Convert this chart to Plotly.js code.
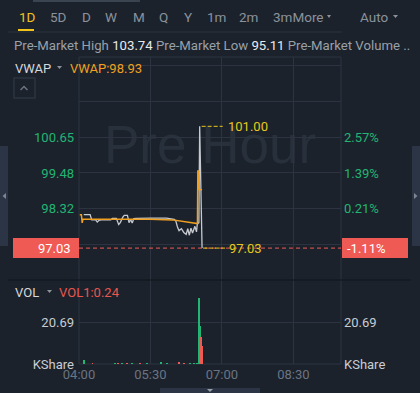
<!DOCTYPE html>
<html>
<head>
<meta charset="utf-8">
<script src="https://cdn.plot.ly/plotly-3.0.1.min.js"></script>
<style>
html,body{margin:0;padding:0;background:#1b222c;}
#chart{width:420px;height:393px;}
</style>
</head>
<body>
<div id="chart"></div>
<script>
// ---------- data ----------
const tabLabels = ['1D','5D','D','W','M','Q','Y','1m','2m','3mMore'];
const preMarketHigh = '103.74';
const preMarketLow = '95.11';
const vwapValue = '98.93';
const vol1Value = '0.24';

const priceTimes = ['04:06','04:14','04:16','04:21','04:23','04:25','04:28','04:40','04:42','04:47','04:50','04:52','04:55','04:57','05:01','05:03','05:05','05:07','05:09','05:12','05:30','05:50','06:00','06:02','06:04','06:06','06:09','06:12','06:15','06:17','06:19','06:21','06:23','06:26','06:28','06:29','06:31','06:32','06:35'];
const prices = [98.12,98.12,97.95,97.95,97.88,97.93,97.95,97.95,98.00,98.00,97.80,97.86,98.03,98.10,98.10,97.86,97.96,97.85,97.99,98.00,98.01,98.01,97.97,97.91,97.72,97.60,97.66,97.54,97.48,97.66,97.45,97.68,97.52,97.74,97.56,97.82,97.86,101.00,97.03];

const vwapTimes = ['04:01','04:03','04:04','04:05','05:30','05:58','06:29:10','06:29:40','06:30:50','06:31:30','06:35'];
const vwapValues = [98.12,98.12,97.85,97.98,97.97,97.95,97.83,99.54,99.54,98.94,98.93];

const volTimes = ['04:06','04:17','04:45','04:49','04:54','05:00','05:07','05:17','05:26','05:43','05:51','06:06','06:12','06:20','06:25','06:29','06:31','06:33','06:34','06:35'];
const volValues = [1.8,0.5,0.7,0.5,0.5,0.5,0.5,0.5,0.5,1.1,0.5,1.1,0.6,0.5,0.5,0.6,32.5,18.5,13.2,8.7];
const volUp = [1,-1,1,-1,1,-1,1,-1,1,1,1,-1,-1,1,1,1,1,1,-1,-1];

const xTickTimes = ['04:00','05:30','07:00','08:30'];
const xTickLabels = ['04:00','05:30','07:00','08:30'];
const xRange = ['04:00','09:30'];

const priceGridVals = [95.99,97.16,98.32,99.48,100.65,101.82,102.99];
const priceTickVals = [98.32,99.48,100.65];
const priceTickLabels = ['98.32','99.48','100.65'];
const pctTickLabels = ['0.21%','1.39%','2.57%'];
const priceRange = [95.99,103.26];
const lastPrice = 97.03;
const lastPriceLabel = '97.03';
const lastPctLabel = '-1.11%';

const volTickVals = [0,20.69];
const volTickLabels = ['KShare','20.69'];
const volRange = [0,41.38];

// ---------- styling / layout ----------
const BG = '#1b222c', GRID = '#2b3440', GREEN = '#22b573', RED = '#f05a55',
      ORANGE = '#f0a01e', YELLOW = '#e8c81a', GRAY = '#8b929c', FONT = 'Roboto, "Noto Sans", sans-serif';
const day = '2024-01-02 ';
const T = t => day + t;

// plot area in pixels
const L = 79, TOP = 57, W = 262, H = 307;
const px = x => (x - L) / W;
const py = y => (TOP + H - y) / H;
const split = (TOP + H - 280) / H;

const highIdx = prices.indexOf(Math.max(...prices));
const highTime = T(priceTimes[highIdx]);
const highPrice = prices[highIdx];
const lastTime = T(priceTimes[priceTimes.length - 1]);

const traces = [
  {x: priceTimes.map(T), y: prices, type: 'scatter', mode: 'lines', line: {color: '#c6c9ce', width: 1.3}, xaxis: 'x', yaxis: 'y', hoverinfo: 'skip'},
  {x: vwapTimes.map(T), y: vwapValues, type: 'scatter', mode: 'lines', line: {color: ORANGE, width: 1.5}, xaxis: 'x', yaxis: 'y', hoverinfo: 'skip'},
  {x: [lastTime], y: [lastPrice], type: 'scatter', mode: 'markers', marker: {opacity: 0}, xaxis: 'x', yaxis: 'y2', hoverinfo: 'skip'},
  {x: volTimes.map(T), y: volValues, type: 'bar', width: 144000, marker: {color: volUp.map(d => d > 0 ? GREEN : RED), line: {width: 0}}, xaxis: 'x', yaxis: 'y3', hoverinfo: 'skip'},
  {x: [lastTime], y: [0], type: 'scatter', mode: 'markers', marker: {opacity: 0}, xaxis: 'x', yaxis: 'y4', hoverinfo: 'skip'}
];

const ann = [];
const shapes = [];
function txt(text, x, y, size, color, anchor, extra) {
  ann.push(Object.assign({text: text, xref: 'paper', yref: 'paper', x: px(x), y: py(y), xanchor: anchor || 'left', yanchor: 'middle', showarrow: false, borderpad: 0, font: {family: FONT, size: size, color: color}}, extra || {}));
}
function rect(x0, y0, x1, y1, fill, line, layer) {
  shapes.push({type: 'rect', xref: 'paper', yref: 'paper', x0: px(x0), x1: px(x1), y0: py(y0), y1: py(y1), fillcolor: fill || 'rgba(0,0,0,0)', line: line || {width: 0}, layer: layer || 'above'});
}
function poly(pts, fill, line) {
  const d = pts.map((p, i) => (i ? 'L' : 'M') + px(p[0]) + ',' + py(p[1])).join(' ') + (fill ? ' Z' : '');
  shapes.push({type: 'path', xref: 'paper', yref: 'paper', path: d, fillcolor: fill || 'rgba(0,0,0,0)', line: line || {width: 0}, layer: 'above'});
}

// top scroll indicator
rect(33, 0, 140, 2, '#3a4350');
// tabs
const tabX = [18, 49, 81, 104, 132, 158, 183, 206, 238, 272];
tabLabels.forEach((t, i) => txt(t, tabX[i], 17, 13.5, i === 0 ? '#f2c318' : GRAY));
poly([[327, 15], [331, 15], [329, 18]], GRAY);
txt('Auto', 359, 17, 13.5, GRAY);
poly([[393, 15], [398, 15], [395.5, 18]], GRAY);
rect(18, 29, 34, 31, '#f2c318');
rect(8, 31.5, 342, 32.5, '#2a323d');
// info line
txt('Pre-Market High <span style="color:#e8eaed">' + preMarketHigh + '</span> Pre-Market Low <span style="color:#e8eaed">' + preMarketLow + '</span> Pre-Market Volume ..', 13, 46, 13.2, '#9aa0a8');
// VWAP header
txt('VWAP', 14, 68.5, 13, '#d5d8dc');
poly([[57, 66], [62, 66], [59.5, 69]], GRAY);
txt('VWAP:' + vwapValue, 69, 68.5, 13, ORANGE);
// collapse button
rect(14, 78, 35, 98, 'rgba(0,0,0,0)', {color: '#2c3440', width: 1.5});
poly([[20.5, 90], [24, 86.5], [27.5, 90]], null, {color: '#6b7380', width: 1.5});
// side tabs
rect(0, 146, 8, 246, '#2b3545');
poly([[6, 193], [6, 199], [2.5, 196]], '#7d8592');
rect(412, 146, 420, 246, '#2b3545');
poly([[414, 193], [414, 199], [417.5, 196]], '#7d8592');
// bottom tab
rect(160, 388, 260, 393, '#2b3545');
poly([[207, 389], [213, 389], [210, 392]], '#9aa0a8');
// plot border + pane separator
rect(79, 57, 341, 364, 'rgba(0,0,0,0)', {color: GRID, width: 1}, 'below');
rect(8, 279.5, 411, 280.5, '#0f141b');
// VOL header
txt('VOL', 14, 292, 13, '#d5d8dc');
poly([[47, 290], [52, 290], [49.5, 293]], GRAY);
txt('VOL1:' + vol1Value, 58, 292, 13, '#e8574e');

// watermark (below the data)
shapes.push({type: 'rect', xref: 'paper', yref: 'paper', x0: px(100), x1: px(320), y0: py(167), y1: py(112), line: {width: 0}, fillcolor: 'rgba(0,0,0,0)', layer: 'below',
  label: {text: 'Pre Hour', textposition: 'middle center', font: {family: '"Liberation Sans", Arial, sans-serif', size: 53, color: '#28303b'}}});

// last price dashed line
shapes.push({type: 'line', xref: 'paper', yref: 'y', x0: 0, x1: 1, y0: lastPrice, y1: lastPrice, line: {color: RED, width: 1, dash: '4px,3px'}, layer: 'above'});
// high / last yellow markers
shapes.push({type: 'line', xref: 'x', xsizemode: 'pixel', xanchor: highTime, x0: 2, x1: 23, yref: 'y', y0: highPrice, y1: highPrice, line: {color: YELLOW, width: 1, dash: '4px,2px'}});
shapes.push({type: 'line', xref: 'x', xsizemode: 'pixel', xanchor: lastTime, x0: 1, x1: 24, yref: 'y', y0: lastPrice, y1: lastPrice, line: {color: YELLOW, width: 1, dash: '4px,2px'}});
ann.push({text: highPrice.toFixed(2), xref: 'x', yref: 'y', x: highTime, y: highPrice, xanchor: 'left', yanchor: 'middle', xshift: 27, showarrow: false, borderpad: 0, font: {family: FONT, size: 13, color: YELLOW}});
ann.push({text: lastPriceLabel, xref: 'x', yref: 'y', x: lastTime, y: lastPrice, xanchor: 'left', yanchor: 'middle', xshift: 26, showarrow: false, borderpad: 0, font: {family: FONT, size: 13, color: YELLOW}});
// last price boxes
shapes.push({type: 'rect', xref: 'paper', xsizemode: 'pixel', xanchor: 0, x0: -66, x1: 0, yref: 'y', ysizemode: 'pixel', yanchor: lastPrice, y0: -10, y1: 10, fillcolor: RED, line: {width: 0}, layer: 'above'});
shapes.push({type: 'rect', xref: 'paper', xsizemode: 'pixel', xanchor: 1, x0: 1, x1: 67, yref: 'y', ysizemode: 'pixel', yanchor: lastPrice, y0: -10, y1: 10, fillcolor: RED, line: {width: 0}, layer: 'above'});
ann.push({text: lastPriceLabel, xref: 'paper', yref: 'y', x: 0, y: lastPrice, xanchor: 'right', yanchor: 'middle', xshift: -7, showarrow: false, borderpad: 0, font: {family: FONT, size: 13, color: '#ffffff'}});
ann.push({text: lastPctLabel, xref: 'paper', yref: 'y', x: 1, y: lastPrice, xanchor: 'left', yanchor: 'middle', xshift: 5, showarrow: false, borderpad: 0, font: {family: FONT, size: 13, color: '#ffffff'}});

const priceTickText = priceGridVals.map(v => { const i = priceTickVals.indexOf(v); return i >= 0 ? priceTickLabels[i] : ''; });
const pctTickText = priceGridVals.map(v => { const i = priceTickVals.indexOf(v); return i >= 0 ? pctTickLabels[i] : ''; });

const layout = {
  width: 420, height: 393,
  margin: {l: L, r: 420 - L - W, t: TOP, b: 393 - TOP - H, pad: 0},
  paper_bgcolor: BG, plot_bgcolor: 'rgba(0,0,0,0)',
  showlegend: false, hovermode: false, bargap: 0,
  font: {family: FONT, size: 13, color: GRAY},
  xaxis: {type: 'date', range: xRange.map(T), tickmode: 'array', tickvals: xTickTimes.map(T), ticktext: xTickLabels,
          showgrid: true, gridcolor: GRID, gridwidth: 1, zeroline: false, showline: false, ticks: '', anchor: 'y3',
          ticklabelstandoff: 1,
          tickfont: {family: FONT, size: 13, color: '#6b7482'}, fixedrange: true},
  yaxis: {domain: [split, 1], range: priceRange, tickmode: 'array', tickvals: priceGridVals, ticktext: priceTickText,
          showgrid: true, gridcolor: GRID, zeroline: false, showline: false, ticks: '', ticklabelstandoff: 4,
          tickfont: {family: FONT, size: 13, color: GREEN}, anchor: 'x', fixedrange: true},
  yaxis2: {overlaying: 'y', side: 'right', range: priceRange, tickmode: 'array', tickvals: priceGridVals, ticktext: pctTickText,
          showgrid: false, zeroline: false, showline: false, ticks: '', ticklabelstandoff: 2,
          tickfont: {family: FONT, size: 13, color: GREEN}, anchor: 'x', fixedrange: true},
  yaxis3: {domain: [0, split], range: volRange, tickmode: 'array', tickvals: volTickVals, ticktext: volTickLabels,
          showgrid: true, gridcolor: GRID, zeroline: false, showline: false, ticks: '', ticklabelstandoff: 4,
          tickfont: {family: FONT, size: 13, color: '#c9cdd3'}, anchor: 'x', fixedrange: true},
  yaxis4: {overlaying: 'y3', side: 'right', range: volRange, tickmode: 'array', tickvals: volTickVals, ticktext: volTickLabels,
          showgrid: false, zeroline: false, showline: false, ticks: '', ticklabelstandoff: 2,
          tickfont: {family: FONT, size: 13, color: '#c9cdd3'}, anchor: 'x', fixedrange: true},
  shapes: shapes,
  annotations: ann
};

Plotly.newPlot('chart', traces, layout, {displayModeBar: false, staticPlot: true});
</script>
</body>
</html>
